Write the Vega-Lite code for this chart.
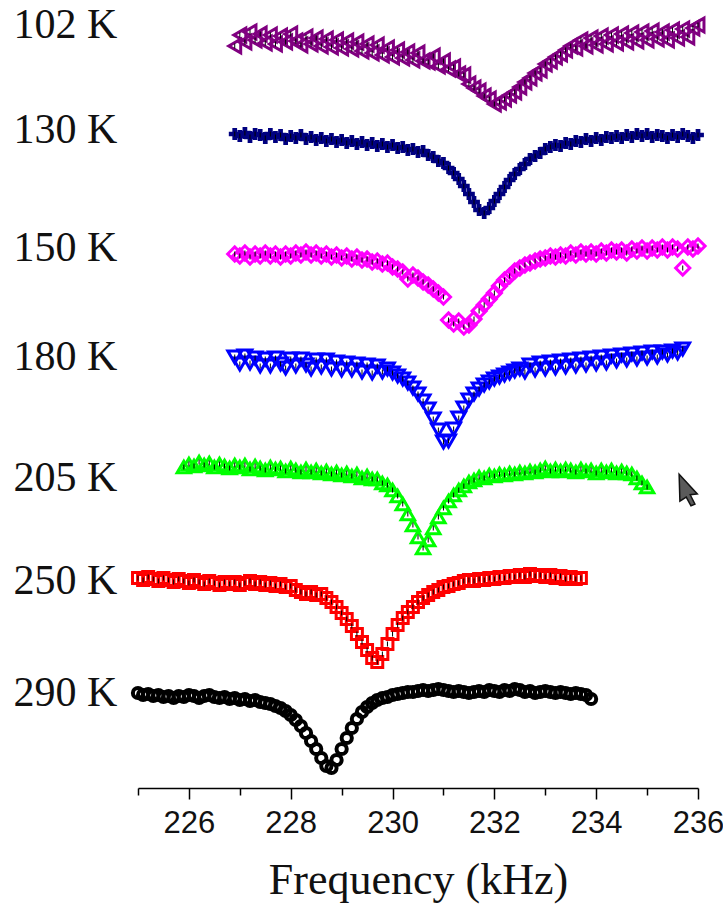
{
  "$schema": "https://vega.github.io/schema/vega-lite/v6.json",
  "autosize": {"type": "none"},
  "width": 560,
  "height": 788,
  "padding": {"left": 138, "right": 25, "top": 0, "bottom": 122},
  "background": "white",
  "config": {"view": {"stroke": null}},
  "data": {"values": [
    {"T":"102 K","f":226.9,"y":74.2},{"T":"102 K","f":227.0,"y":75.3},{"T":"102 K","f":227.1,"y":74.6},{"T":"102 K","f":227.2,"y":75.6},{"T":"102 K","f":227.3,"y":74.8},{"T":"102 K","f":227.4,"y":75.4},{"T":"102 K","f":227.5,"y":74.5},{"T":"102 K","f":227.6,"y":75.3},{"T":"102 K","f":227.7,"y":74.4},{"T":"102 K","f":227.8,"y":75.2},{"T":"102 K","f":227.9,"y":74.6},{"T":"102 K","f":228.0,"y":75.4},{"T":"102 K","f":228.1,"y":74.7},{"T":"102 K","f":228.2,"y":74.3},{"T":"102 K","f":228.3,"y":75.1},{"T":"102 K","f":228.4,"y":74.4},{"T":"102 K","f":228.5,"y":75.0},{"T":"102 K","f":228.6,"y":74.2},{"T":"102 K","f":228.7,"y":74.9},{"T":"102 K","f":228.8,"y":74.1},{"T":"102 K","f":228.9,"y":74.8},{"T":"102 K","f":229.0,"y":74.0},{"T":"102 K","f":229.1,"y":74.7},{"T":"102 K","f":229.2,"y":73.9},{"T":"102 K","f":229.3,"y":74.6},{"T":"102 K","f":229.4,"y":73.7},{"T":"102 K","f":229.5,"y":74.4},{"T":"102 K","f":229.6,"y":73.5},{"T":"102 K","f":229.7,"y":74.3},{"T":"102 K","f":229.8,"y":73.3},{"T":"102 K","f":229.9,"y":74.0},{"T":"102 K","f":230.0,"y":73.1},{"T":"102 K","f":230.1,"y":73.8},{"T":"102 K","f":230.2,"y":73.0},{"T":"102 K","f":230.3,"y":73.6},{"T":"102 K","f":230.4,"y":72.8},{"T":"102 K","f":230.5,"y":73.5},{"T":"102 K","f":230.6,"y":72.7},{"T":"102 K","f":230.7,"y":72.6},{"T":"102 K","f":230.8,"y":73.2},{"T":"102 K","f":230.9,"y":72.2},{"T":"102 K","f":231.0,"y":72.7},{"T":"102 K","f":231.1,"y":71.9},{"T":"102 K","f":231.2,"y":72.1},{"T":"102 K","f":231.3,"y":71.4},{"T":"102 K","f":231.4,"y":71.3},{"T":"102 K","f":231.5,"y":70.4},{"T":"102 K","f":231.6,"y":70.0},{"T":"102 K","f":231.7,"y":69.7},{"T":"102 K","f":231.8,"y":69.2},{"T":"102 K","f":231.9,"y":68.9},{"T":"102 K","f":232.0,"y":68.4},{"T":"102 K","f":232.1,"y":68.6},{"T":"102 K","f":232.2,"y":68.9},{"T":"102 K","f":232.3,"y":69.3},{"T":"102 K","f":232.4,"y":69.6},{"T":"102 K","f":232.5,"y":70.1},{"T":"102 K","f":232.6,"y":70.6},{"T":"102 K","f":232.7,"y":71.0},{"T":"102 K","f":232.8,"y":71.5},{"T":"102 K","f":232.9,"y":71.8},{"T":"102 K","f":233.0,"y":72.4},{"T":"102 K","f":233.1,"y":72.7},{"T":"102 K","f":233.2,"y":73.1},{"T":"102 K","f":233.3,"y":73.4},{"T":"102 K","f":233.4,"y":73.8},{"T":"102 K","f":233.5,"y":74.2},{"T":"102 K","f":233.6,"y":74.0},{"T":"102 K","f":233.7,"y":74.8},{"T":"102 K","f":233.8,"y":74.2},{"T":"102 K","f":233.9,"y":75.0},{"T":"102 K","f":234.0,"y":74.3},{"T":"102 K","f":234.1,"y":75.2},{"T":"102 K","f":234.2,"y":74.4},{"T":"102 K","f":234.3,"y":75.3},{"T":"102 K","f":234.4,"y":74.5},{"T":"102 K","f":234.5,"y":75.4},{"T":"102 K","f":234.6,"y":74.6},{"T":"102 K","f":234.7,"y":75.5},{"T":"102 K","f":234.8,"y":74.7},{"T":"102 K","f":234.9,"y":75.6},{"T":"102 K","f":235.0,"y":74.8},{"T":"102 K","f":235.1,"y":75.7},{"T":"102 K","f":235.2,"y":74.9},{"T":"102 K","f":235.3,"y":75.6},{"T":"102 K","f":235.4,"y":74.8},{"T":"102 K","f":235.5,"y":75.8},{"T":"102 K","f":235.6,"y":75.0},{"T":"102 K","f":235.7,"y":75.9},{"T":"102 K","f":235.8,"y":75.1},{"T":"102 K","f":235.9,"y":76.0},{"T":"102 K","f":236.0,"y":76.3},

    {"T":"130 K","f":226.9,"y":65.4},{"T":"130 K","f":227.0,"y":65.2},{"T":"130 K","f":227.1,"y":65.5},{"T":"130 K","f":227.2,"y":65.1},{"T":"130 K","f":227.3,"y":65.4},{"T":"130 K","f":227.4,"y":65.3},{"T":"130 K","f":227.5,"y":65.0},{"T":"130 K","f":227.6,"y":65.4},{"T":"130 K","f":227.7,"y":65.1},{"T":"130 K","f":227.8,"y":65.3},{"T":"130 K","f":227.9,"y":64.9},{"T":"130 K","f":228.0,"y":65.2},{"T":"130 K","f":228.1,"y":65.0},{"T":"130 K","f":228.2,"y":65.3},{"T":"130 K","f":228.3,"y":64.9},{"T":"130 K","f":228.4,"y":65.1},{"T":"130 K","f":228.5,"y":64.8},{"T":"130 K","f":228.6,"y":65.0},{"T":"130 K","f":228.7,"y":64.7},{"T":"130 K","f":228.8,"y":64.9},{"T":"130 K","f":228.9,"y":64.6},{"T":"130 K","f":229.0,"y":64.8},{"T":"130 K","f":229.1,"y":64.5},{"T":"130 K","f":229.2,"y":64.7},{"T":"130 K","f":229.3,"y":64.4},{"T":"130 K","f":229.4,"y":64.6},{"T":"130 K","f":229.5,"y":64.3},{"T":"130 K","f":229.6,"y":64.5},{"T":"130 K","f":229.7,"y":64.2},{"T":"130 K","f":229.8,"y":64.4},{"T":"130 K","f":229.9,"y":64.1},{"T":"130 K","f":230.0,"y":64.3},{"T":"130 K","f":230.1,"y":64.0},{"T":"130 K","f":230.2,"y":64.1},{"T":"130 K","f":230.3,"y":63.8},{"T":"130 K","f":230.4,"y":63.9},{"T":"130 K","f":230.5,"y":63.6},{"T":"130 K","f":230.6,"y":63.7},{"T":"130 K","f":230.7,"y":63.3},{"T":"130 K","f":230.8,"y":63.1},{"T":"130 K","f":230.9,"y":62.7},{"T":"130 K","f":231.0,"y":62.5},{"T":"130 K","f":231.1,"y":62.0},{"T":"130 K","f":231.2,"y":61.5},{"T":"130 K","f":231.3,"y":60.9},{"T":"130 K","f":231.4,"y":60.2},{"T":"130 K","f":231.5,"y":59.4},{"T":"130 K","f":231.6,"y":58.6},{"T":"130 K","f":231.7,"y":57.8},{"T":"130 K","f":231.8,"y":57.5},{"T":"130 K","f":231.9,"y":58.0},{"T":"130 K","f":232.0,"y":58.7},{"T":"130 K","f":232.1,"y":59.4},{"T":"130 K","f":232.2,"y":60.1},{"T":"130 K","f":232.3,"y":60.8},{"T":"130 K","f":232.4,"y":61.4},{"T":"130 K","f":232.5,"y":61.9},{"T":"130 K","f":232.6,"y":62.4},{"T":"130 K","f":232.7,"y":62.9},{"T":"130 K","f":232.8,"y":63.2},{"T":"130 K","f":232.9,"y":63.5},{"T":"130 K","f":233.0,"y":63.9},{"T":"130 K","f":233.1,"y":64.1},{"T":"130 K","f":233.2,"y":64.3},{"T":"130 K","f":233.3,"y":64.2},{"T":"130 K","f":233.4,"y":64.5},{"T":"130 K","f":233.5,"y":64.4},{"T":"130 K","f":233.6,"y":64.7},{"T":"130 K","f":233.7,"y":64.6},{"T":"130 K","f":233.8,"y":64.9},{"T":"130 K","f":233.9,"y":64.7},{"T":"130 K","f":234.0,"y":65.0},{"T":"130 K","f":234.1,"y":64.8},{"T":"130 K","f":234.2,"y":65.1},{"T":"130 K","f":234.3,"y":65.0},{"T":"130 K","f":234.4,"y":65.2},{"T":"130 K","f":234.5,"y":65.0},{"T":"130 K","f":234.6,"y":65.3},{"T":"130 K","f":234.7,"y":65.1},{"T":"130 K","f":234.8,"y":65.4},{"T":"130 K","f":234.9,"y":65.2},{"T":"130 K","f":235.0,"y":65.4},{"T":"130 K","f":235.1,"y":65.1},{"T":"130 K","f":235.2,"y":65.3},{"T":"130 K","f":235.3,"y":65.2},{"T":"130 K","f":235.4,"y":65.0},{"T":"130 K","f":235.5,"y":65.3},{"T":"130 K","f":235.6,"y":65.1},{"T":"130 K","f":235.7,"y":65.4},{"T":"130 K","f":235.8,"y":65.2},{"T":"130 K","f":235.9,"y":65.0},{"T":"130 K","f":236.0,"y":65.3},

    {"T":"150 K","f":226.9,"y":53.4},{"T":"150 K","f":227.0,"y":53.2},{"T":"150 K","f":227.1,"y":53.5},{"T":"150 K","f":227.2,"y":53.1},{"T":"150 K","f":227.3,"y":53.4},{"T":"150 K","f":227.4,"y":53.2},{"T":"150 K","f":227.5,"y":53.5},{"T":"150 K","f":227.6,"y":53.2},{"T":"150 K","f":227.7,"y":53.4},{"T":"150 K","f":227.8,"y":53.1},{"T":"150 K","f":227.9,"y":53.4},{"T":"150 K","f":228.0,"y":53.2},{"T":"150 K","f":228.1,"y":53.5},{"T":"150 K","f":228.2,"y":53.3},{"T":"150 K","f":228.3,"y":53.6},{"T":"150 K","f":228.4,"y":53.3},{"T":"150 K","f":228.5,"y":53.5},{"T":"150 K","f":228.6,"y":53.2},{"T":"150 K","f":228.7,"y":53.4},{"T":"150 K","f":228.8,"y":53.1},{"T":"150 K","f":228.9,"y":53.3},{"T":"150 K","f":229.0,"y":53.0},{"T":"150 K","f":229.1,"y":53.2},{"T":"150 K","f":229.2,"y":52.9},{"T":"150 K","f":229.3,"y":53.1},{"T":"150 K","f":229.4,"y":52.8},{"T":"150 K","f":229.5,"y":52.9},{"T":"150 K","f":229.6,"y":52.6},{"T":"150 K","f":229.7,"y":52.7},{"T":"150 K","f":229.8,"y":52.4},{"T":"150 K","f":229.9,"y":52.5},{"T":"150 K","f":230.0,"y":52.1},{"T":"150 K","f":230.1,"y":51.9},{"T":"150 K","f":230.2,"y":51.6},{"T":"150 K","f":230.3,"y":50.9},{"T":"150 K","f":230.4,"y":51.3},{"T":"150 K","f":230.5,"y":51.0},{"T":"150 K","f":230.6,"y":50.6},{"T":"150 K","f":230.7,"y":50.3},{"T":"150 K","f":230.8,"y":49.9},{"T":"150 K","f":230.9,"y":49.5},{"T":"150 K","f":231.0,"y":49.1},{"T":"150 K","f":231.1,"y":46.8},{"T":"150 K","f":231.2,"y":46.4},{"T":"150 K","f":231.3,"y":46.7},{"T":"150 K","f":231.4,"y":46.1},{"T":"150 K","f":231.5,"y":46.3},{"T":"150 K","f":231.6,"y":46.9},{"T":"150 K","f":231.7,"y":47.7},{"T":"150 K","f":231.8,"y":48.3},{"T":"150 K","f":231.9,"y":48.9},{"T":"150 K","f":232.0,"y":49.5},{"T":"150 K","f":232.1,"y":50.2},{"T":"150 K","f":232.2,"y":50.8},{"T":"150 K","f":232.3,"y":51.2},{"T":"150 K","f":232.4,"y":51.7},{"T":"150 K","f":232.5,"y":52.0},{"T":"150 K","f":232.6,"y":52.3},{"T":"150 K","f":232.7,"y":52.5},{"T":"150 K","f":232.8,"y":52.7},{"T":"150 K","f":232.9,"y":52.9},{"T":"150 K","f":233.0,"y":53.0},{"T":"150 K","f":233.1,"y":53.2},{"T":"150 K","f":233.2,"y":53.1},{"T":"150 K","f":233.3,"y":53.3},{"T":"150 K","f":233.4,"y":53.2},{"T":"150 K","f":233.5,"y":53.5},{"T":"150 K","f":233.6,"y":53.3},{"T":"150 K","f":233.7,"y":53.6},{"T":"150 K","f":233.8,"y":53.4},{"T":"150 K","f":233.9,"y":53.6},{"T":"150 K","f":234.0,"y":53.4},{"T":"150 K","f":234.1,"y":53.7},{"T":"150 K","f":234.2,"y":53.5},{"T":"150 K","f":234.3,"y":53.8},{"T":"150 K","f":234.4,"y":53.6},{"T":"150 K","f":234.5,"y":53.8},{"T":"150 K","f":234.6,"y":53.5},{"T":"150 K","f":234.7,"y":53.9},{"T":"150 K","f":234.8,"y":53.7},{"T":"150 K","f":234.9,"y":54.0},{"T":"150 K","f":235.0,"y":53.7},{"T":"150 K","f":235.1,"y":54.0},{"T":"150 K","f":235.2,"y":53.8},{"T":"150 K","f":235.3,"y":54.1},{"T":"150 K","f":235.4,"y":53.8},{"T":"150 K","f":235.5,"y":54.1},{"T":"150 K","f":235.6,"y":53.9},{"T":"150 K","f":235.7,"y":52.0},{"T":"150 K","f":235.8,"y":54.1},{"T":"150 K","f":235.9,"y":53.9},{"T":"150 K","f":236.0,"y":54.2},

    {"T":"180 K","f":226.9,"y":43.1},{"T":"180 K","f":227.0,"y":42.4},{"T":"180 K","f":227.1,"y":43.2},{"T":"180 K","f":227.2,"y":42.5},{"T":"180 K","f":227.3,"y":43.0},{"T":"180 K","f":227.4,"y":42.2},{"T":"180 K","f":227.5,"y":42.9},{"T":"180 K","f":227.6,"y":42.2},{"T":"180 K","f":227.7,"y":43.0},{"T":"180 K","f":227.8,"y":42.4},{"T":"180 K","f":227.9,"y":42.0},{"T":"180 K","f":228.0,"y":42.9},{"T":"180 K","f":228.1,"y":42.2},{"T":"180 K","f":228.2,"y":42.9},{"T":"180 K","f":228.3,"y":42.3},{"T":"180 K","f":228.4,"y":41.9},{"T":"180 K","f":228.5,"y":42.8},{"T":"180 K","f":228.6,"y":42.1},{"T":"180 K","f":228.7,"y":42.8},{"T":"180 K","f":228.8,"y":41.9},{"T":"180 K","f":228.9,"y":42.6},{"T":"180 K","f":229.0,"y":41.8},{"T":"180 K","f":229.1,"y":42.5},{"T":"180 K","f":229.2,"y":41.8},{"T":"180 K","f":229.3,"y":42.4},{"T":"180 K","f":229.4,"y":41.6},{"T":"180 K","f":229.5,"y":42.3},{"T":"180 K","f":229.6,"y":41.5},{"T":"180 K","f":229.7,"y":42.2},{"T":"180 K","f":229.8,"y":41.6},{"T":"180 K","f":229.9,"y":41.9},{"T":"180 K","f":230.0,"y":41.5},{"T":"180 K","f":230.1,"y":41.2},{"T":"180 K","f":230.2,"y":40.9},{"T":"180 K","f":230.3,"y":40.5},{"T":"180 K","f":230.4,"y":40.0},{"T":"180 K","f":230.5,"y":39.4},{"T":"180 K","f":230.6,"y":38.7},{"T":"180 K","f":230.7,"y":37.9},{"T":"180 K","f":230.8,"y":36.9},{"T":"180 K","f":230.9,"y":35.8},{"T":"180 K","f":231.0,"y":34.6},{"T":"180 K","f":231.1,"y":34.7},{"T":"180 K","f":231.2,"y":35.9},{"T":"180 K","f":231.3,"y":37.0},{"T":"180 K","f":231.4,"y":38.0},{"T":"180 K","f":231.5,"y":38.8},{"T":"180 K","f":231.6,"y":39.4},{"T":"180 K","f":231.7,"y":39.9},{"T":"180 K","f":231.8,"y":40.3},{"T":"180 K","f":231.9,"y":40.6},{"T":"180 K","f":232.0,"y":40.9},{"T":"180 K","f":232.1,"y":41.1},{"T":"180 K","f":232.2,"y":41.3},{"T":"180 K","f":232.3,"y":41.5},{"T":"180 K","f":232.4,"y":41.7},{"T":"180 K","f":232.5,"y":41.9},{"T":"180 K","f":232.6,"y":41.6},{"T":"180 K","f":232.7,"y":42.3},{"T":"180 K","f":232.8,"y":41.8},{"T":"180 K","f":232.9,"y":42.5},{"T":"180 K","f":233.0,"y":41.9},{"T":"180 K","f":233.1,"y":42.6},{"T":"180 K","f":233.2,"y":42.0},{"T":"180 K","f":233.3,"y":42.7},{"T":"180 K","f":233.4,"y":42.1},{"T":"180 K","f":233.5,"y":42.8},{"T":"180 K","f":233.6,"y":42.2},{"T":"180 K","f":233.7,"y":42.9},{"T":"180 K","f":233.8,"y":42.3},{"T":"180 K","f":233.9,"y":43.0},{"T":"180 K","f":234.0,"y":42.4},{"T":"180 K","f":234.1,"y":43.1},{"T":"180 K","f":234.2,"y":42.5},{"T":"180 K","f":234.3,"y":43.2},{"T":"180 K","f":234.4,"y":42.7},{"T":"180 K","f":234.5,"y":43.3},{"T":"180 K","f":234.6,"y":42.8},{"T":"180 K","f":234.7,"y":43.4},{"T":"180 K","f":234.8,"y":42.9},{"T":"180 K","f":234.9,"y":43.5},{"T":"180 K","f":235.0,"y":43.0},{"T":"180 K","f":235.1,"y":43.6},{"T":"180 K","f":235.2,"y":43.1},{"T":"180 K","f":235.3,"y":43.6},{"T":"180 K","f":235.4,"y":43.3},{"T":"180 K","f":235.5,"y":43.7},{"T":"180 K","f":235.6,"y":43.5},{"T":"180 K","f":235.7,"y":43.9},

    {"T":"205 K","f":225.9,"y":32.1},{"T":"205 K","f":226.0,"y":32.4},{"T":"205 K","f":226.1,"y":32.2},{"T":"205 K","f":226.2,"y":32.6},{"T":"205 K","f":226.3,"y":32.3},{"T":"205 K","f":226.4,"y":32.5},{"T":"205 K","f":226.5,"y":32.1},{"T":"205 K","f":226.6,"y":32.4},{"T":"205 K","f":226.7,"y":32.2},{"T":"205 K","f":226.8,"y":32.0},{"T":"205 K","f":226.9,"y":32.3},{"T":"205 K","f":227.0,"y":32.1},{"T":"205 K","f":227.1,"y":32.3},{"T":"205 K","f":227.2,"y":31.9},{"T":"205 K","f":227.3,"y":32.2},{"T":"205 K","f":227.4,"y":32.0},{"T":"205 K","f":227.5,"y":31.8},{"T":"205 K","f":227.6,"y":32.1},{"T":"205 K","f":227.7,"y":31.9},{"T":"205 K","f":227.8,"y":32.0},{"T":"205 K","f":227.9,"y":31.7},{"T":"205 K","f":228.0,"y":32.0},{"T":"205 K","f":228.1,"y":31.8},{"T":"205 K","f":228.2,"y":31.6},{"T":"205 K","f":228.3,"y":31.9},{"T":"205 K","f":228.4,"y":31.6},{"T":"205 K","f":228.5,"y":31.8},{"T":"205 K","f":228.6,"y":31.5},{"T":"205 K","f":228.7,"y":31.7},{"T":"205 K","f":228.8,"y":31.4},{"T":"205 K","f":228.9,"y":31.6},{"T":"205 K","f":229.0,"y":31.3},{"T":"205 K","f":229.1,"y":31.5},{"T":"205 K","f":229.2,"y":31.2},{"T":"205 K","f":229.3,"y":31.4},{"T":"205 K","f":229.4,"y":31.0},{"T":"205 K","f":229.5,"y":31.2},{"T":"205 K","f":229.6,"y":30.9},{"T":"205 K","f":229.7,"y":30.9},{"T":"205 K","f":229.8,"y":30.5},{"T":"205 K","f":229.9,"y":30.3},{"T":"205 K","f":230.0,"y":29.8},{"T":"205 K","f":230.1,"y":29.2},{"T":"205 K","f":230.2,"y":28.4},{"T":"205 K","f":230.3,"y":27.4},{"T":"205 K","f":230.4,"y":26.3},{"T":"205 K","f":230.5,"y":25.1},{"T":"205 K","f":230.6,"y":24.0},{"T":"205 K","f":230.7,"y":24.8},{"T":"205 K","f":230.8,"y":26.0},{"T":"205 K","f":230.9,"y":27.1},{"T":"205 K","f":231.0,"y":28.0},{"T":"205 K","f":231.1,"y":28.7},{"T":"205 K","f":231.2,"y":29.3},{"T":"205 K","f":231.3,"y":29.8},{"T":"205 K","f":231.4,"y":30.2},{"T":"205 K","f":231.5,"y":30.6},{"T":"205 K","f":231.6,"y":30.8},{"T":"205 K","f":231.7,"y":31.1},{"T":"205 K","f":231.8,"y":31.0},{"T":"205 K","f":231.9,"y":31.3},{"T":"205 K","f":232.0,"y":31.2},{"T":"205 K","f":232.1,"y":31.4},{"T":"205 K","f":232.2,"y":31.3},{"T":"205 K","f":232.3,"y":31.5},{"T":"205 K","f":232.4,"y":31.4},{"T":"205 K","f":232.5,"y":31.6},{"T":"205 K","f":232.6,"y":31.5},{"T":"205 K","f":232.7,"y":31.7},{"T":"205 K","f":232.8,"y":31.6},{"T":"205 K","f":232.9,"y":31.8},{"T":"205 K","f":233.0,"y":32.0},{"T":"205 K","f":233.1,"y":31.7},{"T":"205 K","f":233.2,"y":31.9},{"T":"205 K","f":233.3,"y":31.7},{"T":"205 K","f":233.4,"y":31.9},{"T":"205 K","f":233.5,"y":31.8},{"T":"205 K","f":233.6,"y":31.6},{"T":"205 K","f":233.7,"y":31.9},{"T":"205 K","f":233.8,"y":31.7},{"T":"205 K","f":233.9,"y":31.8},{"T":"205 K","f":234.0,"y":31.5},{"T":"205 K","f":234.1,"y":31.8},{"T":"205 K","f":234.2,"y":31.6},{"T":"205 K","f":234.3,"y":31.8},{"T":"205 K","f":234.4,"y":31.5},{"T":"205 K","f":234.5,"y":31.7},{"T":"205 K","f":234.6,"y":31.5},{"T":"205 K","f":234.7,"y":31.4},{"T":"205 K","f":234.8,"y":31.0},{"T":"205 K","f":234.9,"y":30.5},{"T":"205 K","f":235.0,"y":30.1},

    {"T":"250 K","f":225.0,"y":21.0},{"T":"250 K","f":225.1,"y":20.8},{"T":"250 K","f":225.2,"y":21.1},{"T":"250 K","f":225.3,"y":20.9},{"T":"250 K","f":225.4,"y":20.7},{"T":"250 K","f":225.5,"y":21.0},{"T":"250 K","f":225.6,"y":20.8},{"T":"250 K","f":225.7,"y":20.6},{"T":"250 K","f":225.8,"y":20.9},{"T":"250 K","f":225.9,"y":20.7},{"T":"250 K","f":226.0,"y":20.5},{"T":"250 K","f":226.1,"y":20.8},{"T":"250 K","f":226.2,"y":20.6},{"T":"250 K","f":226.3,"y":20.4},{"T":"250 K","f":226.4,"y":20.7},{"T":"250 K","f":226.5,"y":20.5},{"T":"250 K","f":226.6,"y":20.3},{"T":"250 K","f":226.7,"y":20.6},{"T":"250 K","f":226.8,"y":20.4},{"T":"250 K","f":226.9,"y":20.6},{"T":"250 K","f":227.0,"y":20.3},{"T":"250 K","f":227.1,"y":20.5},{"T":"250 K","f":227.2,"y":20.7},{"T":"250 K","f":227.3,"y":20.4},{"T":"250 K","f":227.4,"y":20.6},{"T":"250 K","f":227.5,"y":20.3},{"T":"250 K","f":227.6,"y":20.5},{"T":"250 K","f":227.7,"y":20.2},{"T":"250 K","f":227.8,"y":20.4},{"T":"250 K","f":227.9,"y":20.1},{"T":"250 K","f":228.0,"y":20.2},{"T":"250 K","f":228.1,"y":19.8},{"T":"250 K","f":228.2,"y":19.6},{"T":"250 K","f":228.3,"y":19.4},{"T":"250 K","f":228.4,"y":19.6},{"T":"250 K","f":228.5,"y":19.3},{"T":"250 K","f":228.6,"y":19.4},{"T":"250 K","f":228.7,"y":19.0},{"T":"250 K","f":228.8,"y":18.6},{"T":"250 K","f":228.9,"y":18.1},{"T":"250 K","f":229.0,"y":17.5},{"T":"250 K","f":229.1,"y":16.9},{"T":"250 K","f":229.2,"y":16.2},{"T":"250 K","f":229.3,"y":15.4},{"T":"250 K","f":229.4,"y":14.6},{"T":"250 K","f":229.5,"y":13.8},{"T":"250 K","f":229.6,"y":13.0},{"T":"250 K","f":229.7,"y":12.6},{"T":"250 K","f":229.8,"y":13.4},{"T":"250 K","f":229.9,"y":14.4},{"T":"250 K","f":230.0,"y":15.4},{"T":"250 K","f":230.1,"y":16.3},{"T":"250 K","f":230.2,"y":17.0},{"T":"250 K","f":230.3,"y":17.6},{"T":"250 K","f":230.4,"y":18.1},{"T":"250 K","f":230.5,"y":18.6},{"T":"250 K","f":230.6,"y":19.0},{"T":"250 K","f":230.7,"y":19.3},{"T":"250 K","f":230.8,"y":19.6},{"T":"250 K","f":230.9,"y":19.8},{"T":"250 K","f":231.0,"y":20.1},{"T":"250 K","f":231.1,"y":20.2},{"T":"250 K","f":231.2,"y":20.4},{"T":"250 K","f":231.3,"y":20.5},{"T":"250 K","f":231.4,"y":20.7},{"T":"250 K","f":231.5,"y":20.8},{"T":"250 K","f":231.6,"y":20.7},{"T":"250 K","f":231.7,"y":20.9},{"T":"250 K","f":231.8,"y":20.8},{"T":"250 K","f":231.9,"y":21.0},{"T":"250 K","f":232.0,"y":20.9},{"T":"250 K","f":232.1,"y":21.1},{"T":"250 K","f":232.2,"y":21.0},{"T":"250 K","f":232.3,"y":21.2},{"T":"250 K","f":232.4,"y":21.1},{"T":"250 K","f":232.5,"y":21.3},{"T":"250 K","f":232.6,"y":21.1},{"T":"250 K","f":232.7,"y":21.4},{"T":"250 K","f":232.8,"y":21.2},{"T":"250 K","f":232.9,"y":21.3},{"T":"250 K","f":233.0,"y":21.1},{"T":"250 K","f":233.1,"y":21.3},{"T":"250 K","f":233.2,"y":21.0},{"T":"250 K","f":233.3,"y":21.2},{"T":"250 K","f":233.4,"y":20.9},{"T":"250 K","f":233.5,"y":21.1},{"T":"250 K","f":233.6,"y":20.9},{"T":"250 K","f":233.7,"y":21.0},

    {"T":"290 K","f":225.0,"y":9.5},{"T":"290 K","f":225.1,"y":9.3},{"T":"290 K","f":225.2,"y":9.4},{"T":"290 K","f":225.3,"y":9.2},{"T":"290 K","f":225.4,"y":9.3},{"T":"290 K","f":225.5,"y":9.1},{"T":"290 K","f":225.6,"y":9.2},{"T":"290 K","f":225.7,"y":9.0},{"T":"290 K","f":225.8,"y":9.2},{"T":"290 K","f":225.9,"y":9.1},{"T":"290 K","f":226.0,"y":9.3},{"T":"290 K","f":226.1,"y":9.2},{"T":"290 K","f":226.2,"y":9.0},{"T":"290 K","f":226.3,"y":9.2},{"T":"290 K","f":226.4,"y":9.3},{"T":"290 K","f":226.5,"y":9.1},{"T":"290 K","f":226.6,"y":9.0},{"T":"290 K","f":226.7,"y":9.1},{"T":"290 K","f":226.8,"y":8.9},{"T":"290 K","f":226.9,"y":9.0},{"T":"290 K","f":227.0,"y":8.8},{"T":"290 K","f":227.1,"y":8.9},{"T":"290 K","f":227.2,"y":8.7},{"T":"290 K","f":227.3,"y":8.8},{"T":"290 K","f":227.4,"y":8.6},{"T":"290 K","f":227.5,"y":8.5},{"T":"290 K","f":227.6,"y":8.4},{"T":"290 K","f":227.7,"y":8.2},{"T":"290 K","f":227.8,"y":8.0},{"T":"290 K","f":227.9,"y":7.7},{"T":"290 K","f":228.0,"y":7.3},{"T":"290 K","f":228.1,"y":6.8},{"T":"290 K","f":228.2,"y":6.2},{"T":"290 K","f":228.3,"y":5.5},{"T":"290 K","f":228.4,"y":4.7},{"T":"290 K","f":228.5,"y":3.9},{"T":"290 K","f":228.6,"y":3.0},{"T":"290 K","f":228.7,"y":2.2},{"T":"290 K","f":228.8,"y":2.0},{"T":"290 K","f":228.9,"y":2.8},{"T":"290 K","f":229.0,"y":3.9},{"T":"290 K","f":229.1,"y":5.0},{"T":"290 K","f":229.2,"y":6.0},{"T":"290 K","f":229.3,"y":6.9},{"T":"290 K","f":229.4,"y":7.6},{"T":"290 K","f":229.5,"y":8.1},{"T":"290 K","f":229.6,"y":8.5},{"T":"290 K","f":229.7,"y":8.8},{"T":"290 K","f":229.8,"y":9.0},{"T":"290 K","f":229.9,"y":9.1},{"T":"290 K","f":230.0,"y":9.3},{"T":"290 K","f":230.1,"y":9.4},{"T":"290 K","f":230.2,"y":9.5},{"T":"290 K","f":230.3,"y":9.6},{"T":"290 K","f":230.4,"y":9.6},{"T":"290 K","f":230.5,"y":9.7},{"T":"290 K","f":230.6,"y":9.8},{"T":"290 K","f":230.7,"y":9.7},{"T":"290 K","f":230.8,"y":9.8},{"T":"290 K","f":230.9,"y":9.9},{"T":"290 K","f":231.0,"y":9.8},{"T":"290 K","f":231.1,"y":9.7},{"T":"290 K","f":231.2,"y":9.6},{"T":"290 K","f":231.3,"y":9.7},{"T":"290 K","f":231.4,"y":9.6},{"T":"290 K","f":231.5,"y":9.5},{"T":"290 K","f":231.6,"y":9.6},{"T":"290 K","f":231.7,"y":9.7},{"T":"290 K","f":231.8,"y":9.6},{"T":"290 K","f":231.9,"y":9.8},{"T":"290 K","f":232.0,"y":9.7},{"T":"290 K","f":232.1,"y":9.6},{"T":"290 K","f":232.2,"y":9.8},{"T":"290 K","f":232.3,"y":9.7},{"T":"290 K","f":232.4,"y":9.9},{"T":"290 K","f":232.5,"y":9.8},{"T":"290 K","f":232.6,"y":9.6},{"T":"290 K","f":232.7,"y":9.7},{"T":"290 K","f":232.8,"y":9.5},{"T":"290 K","f":232.9,"y":9.6},{"T":"290 K","f":233.0,"y":9.7},{"T":"290 K","f":233.1,"y":9.6},{"T":"290 K","f":233.2,"y":9.5},{"T":"290 K","f":233.3,"y":9.6},{"T":"290 K","f":233.4,"y":9.5},{"T":"290 K","f":233.5,"y":9.4},{"T":"290 K","f":233.6,"y":9.5},{"T":"290 K","f":233.7,"y":9.4},{"T":"290 K","f":233.8,"y":9.3},{"T":"290 K","f":233.9,"y":8.9}
  ]},
  "encoding": {
    "x": {"field": "f", "type": "quantitative",
      "scale": {"domain": [225, 236], "nice": false, "zero": false},
      "axis": {
        "values": [225,226,227,228,229,230,231,232,233,234,235,236],
        "labelExpr": "datum.value % 2 === 0 ? datum.label : ''",
        "format": "d",
        "tickSize": {"condition": {"test": "datum.value % 2 === 0", "value": 11}, "value": 7},
        "tickColor": "black", "tickWidth": 1.5,
        "domainColor": "black", "domainWidth": 1.5,
        "grid": false,
        "labelFont": "Liberation Sans", "labelFontSize": 31, "labelColor": "#111",
        "labelPadding": 9, "labelFlush": false, "labelOverlap": false,
        "title": "Frequency (kHz)",
        "titleFont": "Liberation Serif", "titleFontSize": 44, "titleFontWeight": "normal",
        "titleColor": "#111", "titlePadding": 20
      }},
    "y": {"field": "y", "type": "quantitative",
      "scale": {"domain": [0, 78.8], "nice": false, "zero": false},
      "axis": {
        "values": [9.6, 20.8, 31.1, 43.2, 54.1, 65.9, 76.4],
        "labelExpr": "datum.value > 70 ? '102 K' : datum.value > 60 ? '130 K' : datum.value > 48 ? '150 K' : datum.value > 37 ? '180 K' : datum.value > 26 ? '205 K' : datum.value > 15 ? '250 K' : '290 K'",
        "ticks": false, "domain": false, "grid": false, "title": null,
        "labelFont": "Liberation Serif", "labelFontSize": 42, "labelColor": "#111",
        "labelAlign": "left", "labelBaseline": "middle", "labelPadding": 125,
        "labelOverlap": false, "labelBound": false
      }}
  },
  "layer": [
    {"transform": [{"filter": {"field": "T", "equal": "102 K"}}],
     "mark": {"type": "point", "shape": "triangle-left", "filled": false, "color": "#800080", "size": 190, "strokeWidth": 3, "opacity": 1}},
    {"transform": [{"filter": {"field": "T", "equal": "130 K"}}],
     "mark": {"type": "point", "shape": "cross", "filled": true, "color": "#000080", "size": 140, "opacity": 1}},
    {"transform": [{"filter": {"field": "T", "equal": "150 K"}}],
     "mark": {"type": "point", "shape": "diamond", "filled": false, "color": "#FF00FF", "size": 200, "strokeWidth": 3, "opacity": 1}},
    {"transform": [{"filter": {"field": "T", "equal": "180 K"}}],
     "mark": {"type": "point", "shape": "triangle-down", "filled": false, "color": "#0000FF", "size": 190, "strokeWidth": 3, "opacity": 1}},
    {"transform": [{"filter": {"field": "T", "equal": "205 K"}}],
     "mark": {"type": "point", "shape": "triangle-up", "filled": false, "color": "#00FF00", "size": 180, "strokeWidth": 3, "opacity": 1}},
    {"transform": [{"filter": {"field": "T", "equal": "250 K"}}],
     "mark": {"type": "point", "shape": "square", "filled": false, "color": "#FF0000", "size": 120, "strokeWidth": 3, "opacity": 1}},
    {"transform": [{"filter": {"field": "T", "equal": "290 K"}}],
     "mark": {"type": "point", "shape": "circle", "filled": false, "color": "#000000", "size": 105, "strokeWidth": 4, "opacity": 1}},
    {"transform": [{"filter": {"not": {"field": "T", "equal": "290 K"}}}],
     "mark": {"type": "tick", "orient": "vertical", "size": 5, "thickness": 1, "color": "#000000", "opacity": 1}},
    {"data": {"values": [{"f": 235.8, "y": 29.8}]},
     "mark": {"type": "point", "shape": "M -0.55,-1 L 0.6,0.25 L 0.15,0.3 L 0.45,0.9 L 0.2,1 L -0.1,0.45 L -0.5,0.7 Z", "filled": true, "fill": "#5a5a5a", "stroke": "#111111", "strokeWidth": 1.5, "size": 1000, "opacity": 1}}
  ]
}
